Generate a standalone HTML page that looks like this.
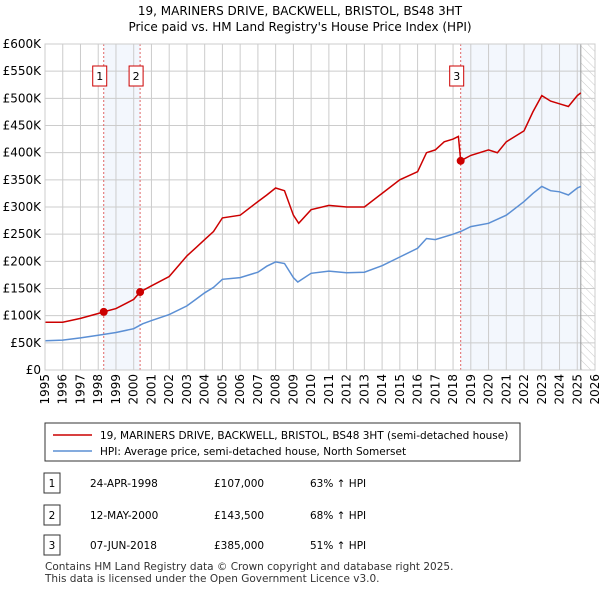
<!DOCTYPE html>
<html><head><meta charset="utf-8"><style>
body{margin:0;background:#fff;font-family:"Liberation Sans","DejaVu Sans",sans-serif;}
svg text{font-family:"DejaVu Sans","Liberation Sans",sans-serif;}
</style></head><body>
<svg id="c" width="600" height="590" viewBox="0 0 600 590">
<text x="300" y="15" font-size="12" text-anchor="middle">19, MARINERS DRIVE, BACKWELL, BRISTOL, BS48 3HT</text>
<text x="300" y="31" font-size="12" text-anchor="middle">Price paid vs. HM Land Registry's House Price Index (HPI)</text>
<g id="plot"></g>
<g>
<rect x="45" y="423" width="475" height="38" fill="#fff" stroke="#333"/>
<line x1="53" y1="435" x2="92" y2="435" stroke="#cc0000" stroke-width="1.5"/>
<text x="100" y="439" font-size="10.5">19, MARINERS DRIVE, BACKWELL, BRISTOL, BS48 3HT (semi-detached house)</text>
<line x1="53" y1="451" x2="92" y2="451" stroke="#5b8fd4" stroke-width="1.5"/>
<text x="100" y="455" font-size="10.5">HPI: Average price, semi-detached house, North Somerset</text>
</g>
<g id="tbl" font-size="10.5"></g>
<text x="45" y="570" font-size="10.5" fill="#333">Contains HM Land Registry data © Crown copyright and database right 2025.</text>
<text x="45" y="582" font-size="10.5" fill="#333">This data is licensed under the Open Government Licence v3.0.</text>
</svg>
<script>
const hpiYears=[1995,1996,1997,1998,1999,2000,2000.5,2001,2002,2003,2003.5,2004,2004.5,2005,2006,2007,2007.5,2008,2008.5,2009,2009.25,2010,2011,2012,2013,2014,2015,2016,2016.5,2017,2018,2018.5,2019,2020,2021,2022,2022.5,2023,2023.5,2024,2024.5,2025,2025.2];
const hpiValues=[54,55,59,64,69,76,85,91,102,118,130,142,152,167,170,180,191,199,196,170,162,178,182,179,180,192,208,224,242,240,250,256,264,270,285,310,325,338,330,328,322,335,338];
const priceYears=[1995,1996,1997,1998,1998.3,1999,2000,2000.36,2001,2002,2003,2003.5,2004,2004.5,2005,2006,2007,2007.5,2008,2008.5,2009,2009.3,2010,2011,2012,2013,2014,2015,2016,2016.5,2017,2017.5,2018,2018.3,2018.43,2019,2020,2020.5,2021,2022,2022.5,2023,2023.5,2024,2024.5,2025,2025.2];
const priceValues=[88,88,95,104,107,113,130,143.5,155,172,210,225,240,255,280,285,310,322,335,330,285,270,295,303,300,300,325,350,365,400,405,420,425,430,385,395,405,400,420,440,475,505,495,490,485,505,510];
const saleYears=[1998.31,2000.36,2018.43];
const saleValues=[107,143.5,385];
const saleLabels=["1","2","3"];
const saleDates=["24-APR-1998","12-MAY-2000","07-JUN-2018"];
const salePrices=["£107,000","£143,500","£385,000"];
const saleHpi=["63% ↑ HPI","68% ↑ HPI","51% ↑ HPI"];
const yTicks=[0,50,100,150,200,250,300,350,400,450,500,550,600];
const xTicks=[1995,1996,1997,1998,1999,2000,2001,2002,2003,2004,2005,2006,2007,2008,2009,2010,2011,2012,2013,2014,2015,2016,2017,2018,2019,2020,2021,2022,2023,2024,2025,2026];
const L=45,R=595,T=44,B=370,X0=1995,X1=2026,dataEnd=2025.2;
const sx=v=>L+(v-X0)/(X1-X0)*(R-L), sy=v=>B-v/600*(B-T);
const NS="http://www.w3.org/2000/svg";
function mk(p,t,a){const e=document.createElementNS(NS,t);for(const k in a)e.setAttribute(k,a[k]);p.appendChild(e);return e;}
const g=document.getElementById('plot');
let e;
e=mk(g,'rect',{x:sx(saleYears[0]),y:T,width:sx(saleYears[1])-sx(saleYears[0]),height:B-T,fill:'#eef3fc',opacity:0.7});

e=mk(g,'rect',{x:sx(saleYears[2]),y:T,width:sx(dataEnd)-sx(saleYears[2]),height:B-T,fill:'#eef3fc',opacity:0.7});

const defs=mk(g,'defs',{});
const pat=mk(defs,'pattern',{id:'h',width:6,height:6,patternUnits:'userSpaceOnUse',patternTransform:'rotate(-45)'});
mk(pat,'line',{x1:0,y1:0,x2:0,y2:6,stroke:'#ccc','stroke-width':1});
e=mk(g,'rect',{x:sx(dataEnd),y:T,width:R-sx(dataEnd),height:B-T,fill:'url(#h)'});

yTicks.forEach(v=>{
 e=mk(g,'line',{x1:L,x2:R,y1:sy(v),y2:sy(v),stroke:'#ccc'});
 
 e=mk(g,'text',{x:L-4,y:sy(v)+4,'font-size':12,'text-anchor':'end'});e.textContent=v?'£'+v+'K':'£0';
 
});
xTicks.forEach(v=>{
 e=mk(g,'line',{x1:sx(v),x2:sx(v),y1:T,y2:B,stroke:'#ccc'});
 
 e=mk(g,'text',{x:0,y:0,'font-size':12,'text-anchor':'end',transform:`translate(${sx(v)+4},${B+4}) rotate(-90)`});e.textContent=v;
 
});
e=mk(g,'line',{x1:sx(dataEnd),x2:sx(dataEnd),y1:T,y2:B,stroke:'#999'});

saleYears.forEach((y,i)=>{
 e=mk(g,'line',{x1:sx(y),x2:sx(y),y1:T,y2:B,stroke:'#e06666','stroke-dasharray':'2,2'});
 
 const bx=sx(y)-(i<2?10:0)-10;
 e=mk(g,'rect',{x:sx(y)-18+(i==1?0:0)-(i==0?0:0),y:66,width:14,height:20,fill:'#fff',stroke:'#cc0000'});
 e.setAttribute('x',sx(y)-(i==0?11:(i==1?-0:11))-(i==1?11:0));
 
 e=mk(g,'text',{x:+g.lastChild.getAttribute('x')+7,y:80,'font-size':11,'text-anchor':'middle'});e.textContent=saleLabels[i];
 
});
function line(xs,vs,col,name){const d=xs.map((x,i)=>(i?'L':'M')+sx(x).toFixed(1)+','+sy(vs[i]).toFixed(1)).join('');
 e=mk(g,'path',{d,fill:'none',stroke:col,'stroke-width':1.5});
 }
line(hpiYears,hpiValues,'#5b8fd4','hpi-line');
line(priceYears,priceValues,'#cc0000','price-line');
saleYears.forEach((y,i)=>{e=mk(g,'circle',{cx:sx(y),cy:sy(saleValues[i]),r:4,fill:'#cc0000'});
 });
e=mk(g,'rect',{x:L,y:T,width:R-L,height:B-T,fill:'none',stroke:'#ccc'});

const t=document.getElementById('tbl');const rows=[483,515,545];
saleLabels.forEach((s,i)=>{const y=rows[i];
 e=mk(t,'rect',{x:44,y:y-10,width:16,height:20,fill:'#fff',stroke:'#333'});
 
 e=mk(t,'text',{x:52,y:y+4,'text-anchor':'middle'});e.textContent=s;
 
 e=mk(t,'text',{x:90,y:y+4});e.textContent=saleDates[i];
 
 e=mk(t,'text',{x:214,y:y+4});e.textContent=salePrices[i];
 
 e=mk(t,'text',{x:310,y:y+4});e.textContent=saleHpi[i];
 
});
</script>
</body></html>
